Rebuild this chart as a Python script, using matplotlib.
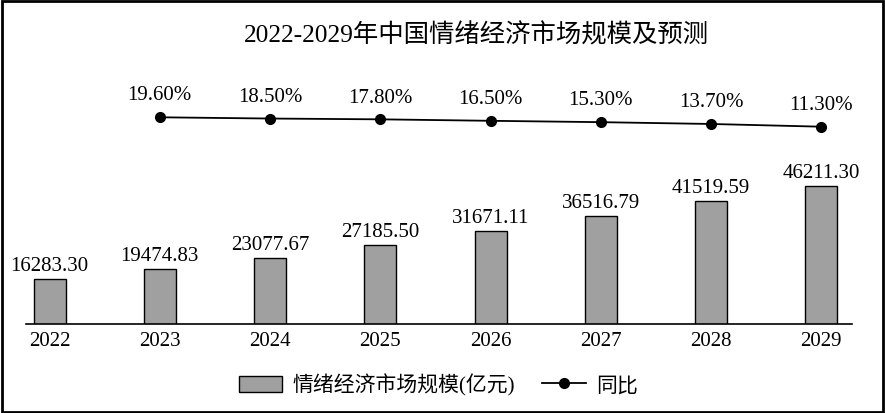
import matplotlib
matplotlib.use('Agg')
import matplotlib.pyplot as plt
from matplotlib.patches import Rectangle
from matplotlib.lines import Line2D

plt.rcParams['font.family'] = ['Liberation Serif', 'Noto Sans CJK SC']

years = ['2022', '2023', '2024', '2025', '2026', '2027', '2028', '2029']
market_size = [16283.30, 19474.83, 23077.67, 27185.50, 31671.11, 36516.79, 41519.59, 46211.30]
growth_years = ['2023', '2024', '2025', '2026', '2027', '2028', '2029']
growth_pct = [19.60, 18.50, 17.80, 16.50, 15.30, 13.70, 11.30]

fig = plt.figure(figsize=(8.85, 4.13), dpi=100)
ax = fig.add_axes([25.5 / 885, 89 / 413, 826.2 / 885, 263 / 413])

x = list(range(len(years)))
ax.bar(x, market_size, width=0.29, color='#a0a0a0', edgecolor='black', linewidth=1.0, zorder=2)
for xi, v in zip(x, market_size):
    ax.annotate(f'{v:.2f}', (xi, v), xytext=(0, 2), textcoords='offset points',
                ha='center', va='bottom', fontsize=15)

ax.set_xlim(-0.218, 7.276)
ax.set_ylim(1608, 86694)
ax.set_xticks(x)
ax.set_xticklabels(years, fontsize=15)
ax.tick_params(axis='x', length=0, pad=5.5)
ax.set_yticks([])
for side in ['top', 'right', 'left']:
    ax.spines[side].set_visible(False)
ax.spines['bottom'].set_linewidth(1.2)

# growth line on its own scale
ax2 = ax.twinx()
gx = [years.index(y) for y in growth_years]
ax2.plot(gx, growth_pct, color='black', linewidth=1.3, marker='o', markersize=7, zorder=3)
for xi, v in zip(gx, growth_pct):
    ax2.annotate(f'{v:.2f}%', (xi, v), xytext=(0, 8.5), textcoords='offset points',
                 ha='center', va='bottom', fontsize=15)
ax2.set_ylim(-162.9, 69.3)
ax2.set_yticks([])
for side in ['top', 'right', 'left', 'bottom']:
    ax2.spines[side].set_visible(False)

fig.text(476 / 885, 1 - 35 / 413, '2022-2029年中国情绪经济市场规模及预测', ha='center', va='center', fontsize=18.3)

handles = [Rectangle((0, 0), 1, 1, facecolor='#a0a0a0', edgecolor='black', linewidth=1.0),
           Line2D([], [], color='black', linewidth=1.3, marker='o', markersize=7)]
fig.legend(handles, ['情绪经济市场规模(亿元)', '同比'], loc='center', bbox_to_anchor=(0.5 - 4 / 885, 1 - 385 / 413),
           ncol=2, frameon=False, fontsize=15, handlelength=2.1, handleheight=0.85,
           columnspacing=1.3, handletextpad=0.5)

fig.patches.append(Rectangle((0.002, 0.003), 0.996, 0.994, transform=fig.transFigure,
                             fill=False, edgecolor='black', linewidth=2))

fig.savefig('out.png', dpi=100)
